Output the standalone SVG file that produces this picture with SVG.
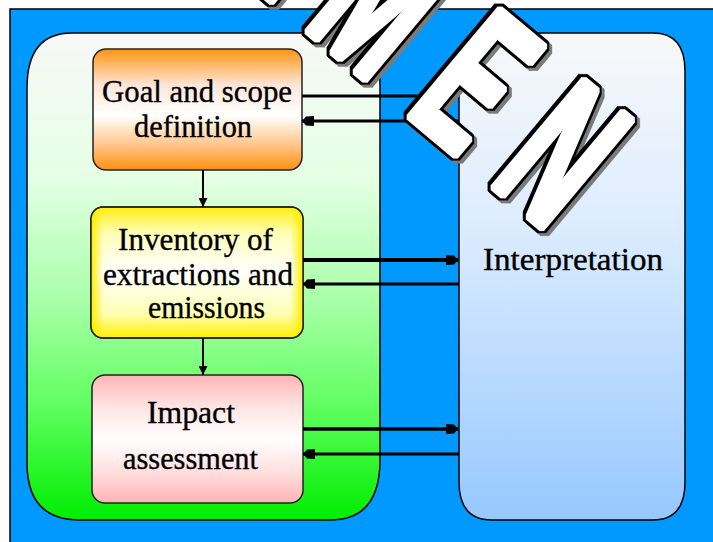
<svg xmlns="http://www.w3.org/2000/svg" width="713" height="542" viewBox="0 0 713 542">
<style>
.lbl{font-family:"Liberation Serif","DejaVu Serif",serif;font-size:31px;fill:#000;stroke:#000;stroke-width:0.35}
.panel{stroke:#000;stroke-width:1.5}
.box{stroke:#222;stroke-width:1.5}
.con{stroke:#000;fill:none}
.wm{font-family:"Liberation Sans","Arial",sans-serif;font-weight:bold;font-size:207px;fill:#fff}
</style>
<defs>
<linearGradient id="gGreen" x1="0" y1="0" x2="0" y2="1">
<stop offset="0" stop-color="#f8f8f8"/>
<stop offset="0.3" stop-color="#e4ffe4"/>
<stop offset="0.55" stop-color="#a8ffa8"/>
<stop offset="0.75" stop-color="#66ff66"/>
<stop offset="1" stop-color="#00ee00"/>
</linearGradient>
<linearGradient id="gBlue" x1="0" y1="0" x2="0" y2="1">
<stop offset="0" stop-color="#f8f8f8"/>
<stop offset="0.4" stop-color="#dcecff"/>
<stop offset="1" stop-color="#96c8ff"/>
</linearGradient>
<linearGradient id="gOrange" x1="0" y1="0" x2="0" y2="1">
<stop offset="0" stop-color="#ff9410"/>
<stop offset="0.3" stop-color="#fde6d8"/>
<stop offset="0.55" stop-color="#ffffff"/>
<stop offset="0.78" stop-color="#ffc890"/>
<stop offset="1" stop-color="#ff9010"/>
</linearGradient>
<linearGradient id="gYellow" x1="0" y1="0" x2="0" y2="1">
<stop offset="0" stop-color="#ffee10"/>
<stop offset="0.2" stop-color="#ffffb8"/>
<stop offset="0.5" stop-color="#ffffff"/>
<stop offset="0.82" stop-color="#ffffb0"/>
<stop offset="1" stop-color="#ffee00"/>
</linearGradient>
<linearGradient id="gYellowX" x1="0" y1="0" x2="1" y2="0">
<stop offset="0" stop-color="#ffee00" stop-opacity="1"/>
<stop offset="0.06" stop-color="#ffee00" stop-opacity="0"/>
<stop offset="0.94" stop-color="#ffee00" stop-opacity="0"/>
<stop offset="1" stop-color="#ffee00" stop-opacity="1"/>
</linearGradient>
<linearGradient id="gPink" x1="0" y1="0" x2="0" y2="1">
<stop offset="0" stop-color="#ffb4b4"/>
<stop offset="0.25" stop-color="#ffe4e4"/>
<stop offset="0.5" stop-color="#ffffff"/>
<stop offset="0.75" stop-color="#ffe0e0"/>
<stop offset="1" stop-color="#ffb4b4"/>
</linearGradient>
<marker id="ah" viewBox="0 0 12 12" refX="12" refY="6" markerWidth="12" markerHeight="12" orient="auto" markerUnits="userSpaceOnUse">
<path d="M0,1 L8,1.5 L12,6 L8,10.5 L0,11 z" fill="#000"/>
</marker>
<marker id="ahs" viewBox="0 0 10 10" refX="10" refY="5" markerWidth="9" markerHeight="9" orient="auto" markerUnits="userSpaceOnUse">
<path d="M0,0 L10,5 L0,10 z" fill="#000"/>
</marker>
<filter id="wmFx" x="-5%" y="-5%" width="110%" height="110%" color-interpolation-filters="sRGB">
<feMorphology in="SourceAlpha" operator="dilate" radius="4" result="d4"/>
<feMorphology in="SourceAlpha" operator="dilate" radius="2" result="d2"/>
<feOffset in="d4" dx="3" dy="3" result="so"/>
<feFlood flood-color="#7a7a7a" result="fg"/>
<feComposite in="fg" in2="so" operator="in" result="sh"/>
<feOffset in="d4" dx="-1" dy="-1" result="bo"/>
<feFlood flood-color="#000" result="fb"/>
<feComposite in="fb" in2="bo" operator="in" result="bk1"/>
<feComposite in="fb" in2="d4" operator="in" result="bk2"/>
<feFlood flood-color="#fff" result="fw"/>
<feComposite in="fw" in2="d2" operator="in" result="wh"/>
<feMerge><feMergeNode in="sh"/><feMergeNode in="bk1"/><feMergeNode in="bk2"/><feMergeNode in="wh"/></feMerge>
</filter>
</defs>

<rect x="0" y="0" width="713" height="542" fill="#fff"/>
<rect id="background" x="10" y="9" width="710" height="540" fill="#0099ff" stroke="#000" stroke-width="1.5"/>

<g id="lca-framework">
<path class="panel" fill="url(#gGreen)" d="M72,33 H335 Q380,33 380,85 V460 Q380,520 330,520 H80 Q27,520 27,463 V88 Q27,33 72,33 Z"/>
</g>

<g id="interpretation">
<path class="panel" fill="url(#gBlue)" d="M490,33 H653 Q685,33 685,71 V482 Q685,520 653,520 H492 Q459,520 459,482 V71 Q459,33 490,33 Z"/>
<text class="lbl" x="483" y="270" textLength="180" lengthAdjust="spacingAndGlyphs">Interpretation</text>
</g>

<g id="goal-scope">
<rect class="box" x="93" y="49" width="209" height="121" rx="13" ry="13" fill="url(#gOrange)"/>
<text class="lbl" x="102" y="102" textLength="190" lengthAdjust="spacingAndGlyphs">Goal and scope</text>
<text class="lbl" x="134" y="137" textLength="118" lengthAdjust="spacingAndGlyphs">definition</text>
</g>

<g id="inventory">
<rect class="box" x="91" y="207" width="212" height="131" rx="12" ry="12" fill="url(#gYellow)"/>
<rect x="91" y="207" width="212" height="131" rx="12" ry="12" fill="url(#gYellowX)"/>
<rect x="91" y="207" width="212" height="131" rx="12" ry="12" fill="none" stroke="#222" stroke-width="1.5"/>
<text class="lbl" x="118" y="250" textLength="155" lengthAdjust="spacingAndGlyphs">Inventory of</text>
<text class="lbl" x="103" y="285" textLength="190" lengthAdjust="spacingAndGlyphs">extractions and</text>
<text class="lbl" x="148" y="318" textLength="117" lengthAdjust="spacingAndGlyphs">emissions</text>
</g>

<g id="impact">
<rect class="box" x="92" y="375" width="211" height="128" rx="13" ry="13" fill="url(#gPink)"/>
<text class="lbl" x="147" y="423" textLength="88" lengthAdjust="spacingAndGlyphs">Impact</text>
<text class="lbl" x="123" y="469" textLength="135" lengthAdjust="spacingAndGlyphs">assessment</text>
</g>

<g id="connectors">
<path class="con" stroke-width="2" d="M203,170 V207" marker-end="url(#ahs)"/>
<path class="con" stroke-width="2" d="M203,338 V375" marker-end="url(#ahs)"/>
<path class="con" stroke-width="3" d="M302,96 H458" marker-end="url(#ah)"/>
<path class="con" stroke-width="3" d="M459,121 H302" marker-end="url(#ah)"/>
<path class="con" stroke-width="4" d="M303,260 H458" marker-end="url(#ah)"/>
<path class="con" stroke-width="3" d="M459,284 H303" marker-end="url(#ah)"/>
<path class="con" stroke-width="3.5" d="M303,429 H458" marker-end="url(#ah)"/>
<path class="con" stroke-width="3" d="M459,454 H303" marker-end="url(#ah)"/>
</g>

<g id="watermark" filter="url(#wmFx)">
<g transform="translate(403,118) rotate(40) scale(0.53,1)">
<text class="wm" x="-1224 -1014 -804 -594 -373 -258 -7 200" y="-4">SPECIMEN</text>
</g>
</g>
</svg>
